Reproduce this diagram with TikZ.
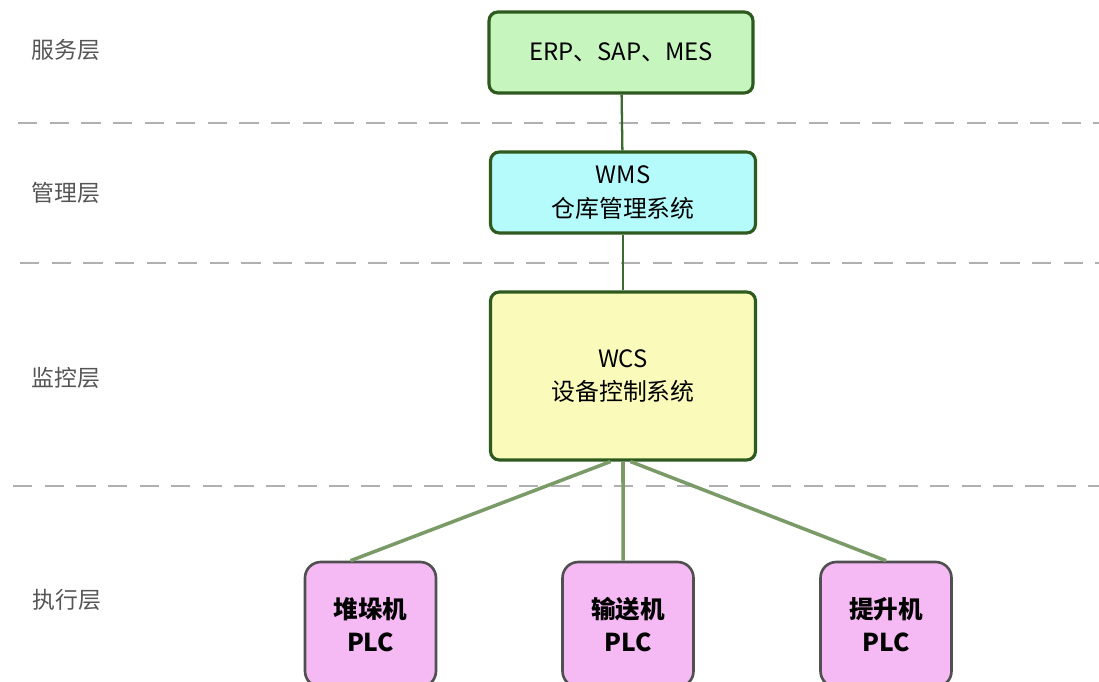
\documentclass[tikz,border=0pt]{standalone}
\usepackage{fontspec}
\setmainfont{Noto Sans CJK SC}
\definecolor{srvfill}{HTML}{C6F5BE}
\definecolor{mgrfill}{HTML}{B6FBFC}
\definecolor{monfill}{HTML}{FAFBBA}
\definecolor{plcfill}{HTML}{F5BAF3}
\definecolor{boxedge}{HTML}{2F5A1F}
\definecolor{plcedge}{HTML}{505050}
\definecolor{toplink}{HTML}{3D6B2F}
\definecolor{lowlink}{HTML}{7A9A68}
\definecolor{layerline}{HTML}{B0B0B0}
\definecolor{layertext}{HTML}{555555}
\begin{document}
\begin{tikzpicture}[x=0.02cm,y=-0.02cm,
	sysbox/.style={draw=boxedge,line width=1.8pt,rounded corners=5pt,inner sep=0pt,align=center,font=\fontsize{13.6}{19}\selectfont},
	plcbox/.style={draw=plcedge,fill=plcfill,line width=1.5pt,rounded corners=9pt,minimum width=2.62cm,minimum height=2.5cm,inner sep=0pt,align=center,font=\fontsize{14}{19}\selectfont\bfseries},
	layer/.style={text=layertext,font=\fontsize{13}{16}\selectfont},
	sep/.style={layerline,line width=1.6pt,dash pattern=on 11pt off 7pt}]
	\clip (0,0) rectangle (1099,682);
	\fill[white] (0,0) rectangle (1099,682);
	\node[layer] at (66,50) (l1) {服务层};
	\node[layer] at (66,193) (l2) {管理层};
	\node[layer] at (66,378) (l3) {监控层};
	\node[layer] at (67,600) (l4) {执行层};

	\draw[sep] (18,123) -- (1099,123);
	\draw[sep] (20,263) -- (1099,263);
	\draw[sep] (13,486) -- (1099,486);

	\node[sysbox,fill=srvfill,minimum width=5.28cm,minimum height=1.62cm] at (621,52.5) (erp) {ERP、SAP、MES};
	\node[sysbox,fill=mgrfill,minimum width=5.3cm,minimum height=1.62cm] at (623,192.5) (wms) {WMS\\仓库管理系统};
	\node[sysbox,fill=monfill,minimum width=5.3cm,minimum height=3.36cm] at (623,376) (wcs) {WCS\\设备控制系统};
	\node[plcbox] at (370.5,624.5) (p1) {堆垛机\\PLC};
	\node[plcbox] at (628,624.5) (p2) {输送机\\PLC};
	\node[plcbox] at (886,624.5) (p3) {提升机\\PLC};

	\path[draw=toplink,line width=1.3pt] (erp) edge (wms) (wms) edge (wcs);
	\path[draw=lowlink,line width=2pt]
	([xshift=-0.25cm]wcs.south) edge ([xshift=-0.4cm]p1.north)
	(wcs.south) edge ([xshift=-0.1cm]p2.north)
	([xshift=0.15cm]wcs.south) edge (p3.north);
\end{tikzpicture}
\end{document}
